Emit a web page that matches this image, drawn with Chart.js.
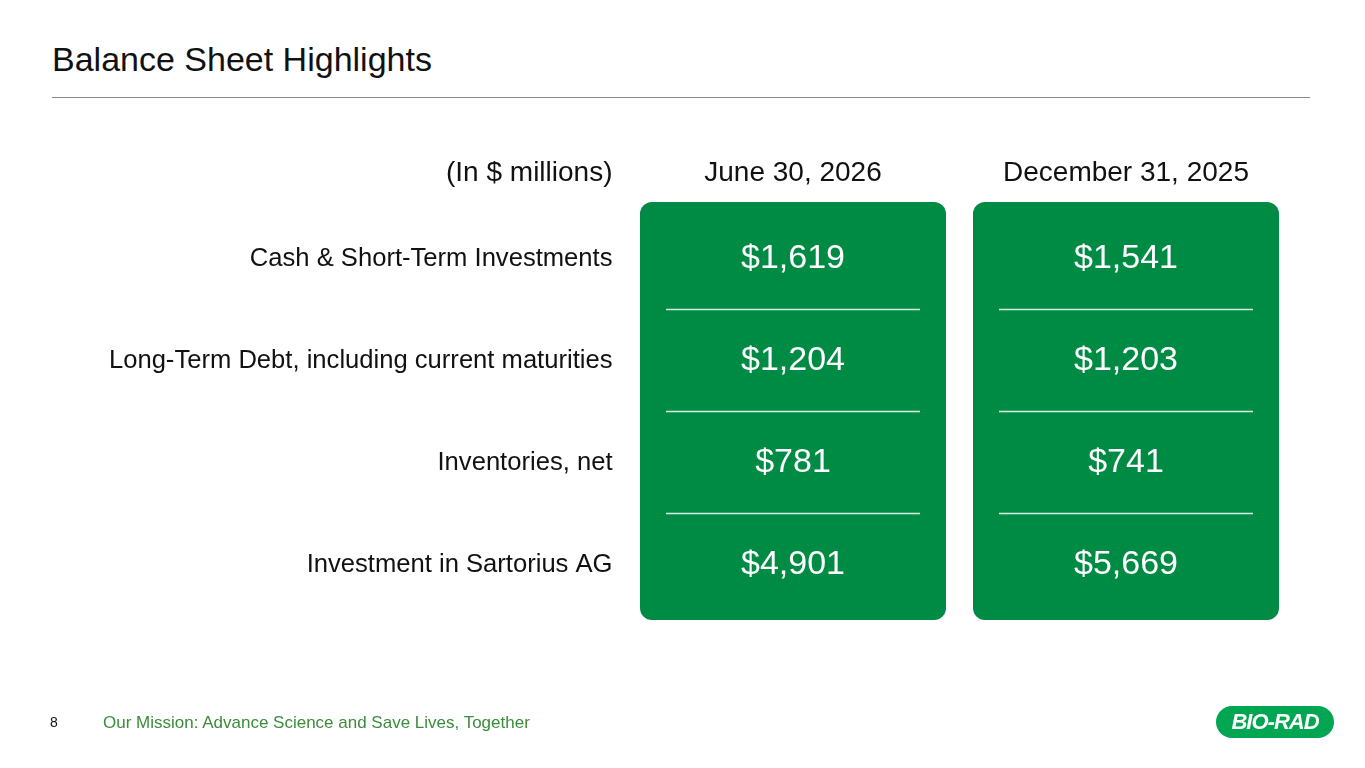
<!DOCTYPE html>
<html>
<head>
<meta charset="utf-8">
<style>
  html, body { margin: 0; padding: 0; background: #fff; }
  body { width: 1365px; height: 768px; position: relative; overflow: hidden; font-family: "Liberation Sans", Arial, sans-serif; }
  #title { position: absolute; left: 52px; top: 39px; font-size: 34px; color: #111; line-height: 40px; }
  #rule { position: absolute; left: 52px; top: 97px; width: 1258px; height: 1px; background: #8a8a8a; }
  #page { position: absolute; left: 50px; top: 714px; font-size: 14px; color: #111; }
  #mission { position: absolute; left: 103px; top: 713px; font-size: 17px; color: #3c8c3c; }
  #logo { position: absolute; left: 1216px; top: 706px; width: 118px; height: 32px; border-radius: 16px; background: #00a651;
          color: #fff; font-weight: bold; font-style: italic; font-size: 22px; line-height: 32px; text-align: center; letter-spacing: -1px; }
  canvas { position: absolute; left: 0; top: 0; }
</style>
</head>
<body>
<div id="title">Balance Sheet Highlights</div>
<div id="rule"></div>
<canvas id="sheet" width="1365" height="768"></canvas>
<div id="page">8</div>
<div id="mission">Our Mission: Advance Science and Save Lives, Together</div>
<div id="logo">BIO-RAD</div>

<script src="https://cdn.jsdelivr.net/npm/chart.js"></script>
<script>
    const columns = ['June 30, 2026', 'December 31, 2025'];
    const rowLabels = [
        'Cash & Short-Term Investments',
        'Long-Term Debt, including current maturities',
        'Inventories, net',
        'Investment in Sartorius AG'
    ];
    const june2026 = [1619, 1204, 781, 4901];
    const dec2025 = [1541, 1203, 741, 5669];
    const unitLabel = '(In $ millions)';

    const columnValues = [june2026, dec2025];

    function money(v) {
        return '$' + v.toLocaleString('en-US');
    }

    // text and separator lines placed from the chart's own scales
    const tableText = {
        id: 'tableText',
        afterDatasetsDraw(chart) {
            const c = chart.ctx;
            const y = chart.scales.y;
            const area = chart.chartArea;
            const bars = chart.getDatasetMeta(0).data;
            c.save();
            c.textBaseline = 'middle';

            // column headers
            c.fillStyle = '#111';
            c.font = '28px "Liberation Sans", Arial, sans-serif';
            c.textAlign = 'right';
            c.fillText(unitLabel, area.left - 14, area.top - 29);
            c.textAlign = 'center';
            bars.forEach((bar, j) => c.fillText(columns[j], bar.x, area.top - 29));

            // row labels
            c.font = '25.6px "Liberation Sans", Arial, sans-serif';
            c.textAlign = 'right';
            rowLabels.forEach((lab, i) => c.fillText(lab, area.left - 14, y.getPixelForValue(i + 0.5) + 1));

            // values and separators
            bars.forEach((bar, j) => {
                c.fillStyle = '#fff';
                c.font = '34px "Liberation Sans", Arial, sans-serif';
                c.textAlign = 'center';
                columnValues[j].forEach((v, i) => c.fillText(money(v), bar.x, y.getPixelForValue(i + 0.5) + 1));
                c.strokeStyle = 'rgba(255,255,255,0.85)';
                c.lineWidth = 1.5;
                for (let i = 1; i < rowLabels.length; i++) {
                    const py = Math.round(y.getPixelForValue(i)) + 0.5;
                    c.beginPath();
                    c.moveTo(bar.x - bar.width / 2 + 26, py);
                    c.lineTo(bar.x + bar.width / 2 - 26, py);
                    c.stroke();
                }
            });
            c.restore();
        }
    };

    new Chart(document.getElementById('sheet'), {
        type: 'bar',
        data: {
            labels: columns,
            datasets: [{
                data: columns.map(() => [-0.05, rowLabels.length + 0.05]),
                backgroundColor: '#008b45',
                borderRadius: 12,
                borderSkipped: false,
                barPercentage: 1,
                categoryPercentage: 0.919
            }]
        },
        options: {
            responsive: false,
            animation: false,
            layout: { padding: { left: 626.5, right: 72.5, top: 202, bottom: 148 } },
            scales: {
                x: { type: 'category', display: false, offset: true },
                y: { type: 'linear', display: false, reverse: true, min: -0.05, max: rowLabels.length + 0.05 }
            },
            plugins: {
                legend: { display: false },
                tooltip: { enabled: false }
            }
        },
        plugins: [tableText]
    });
</script>
</body>
</html>
